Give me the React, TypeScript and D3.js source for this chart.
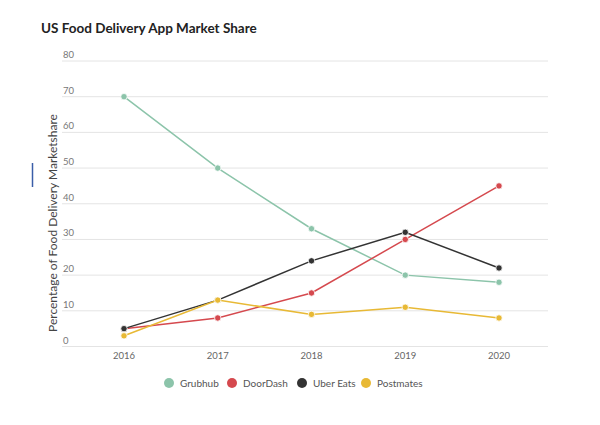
import React from "react";
import * as d3 from "d3";

const years = ["2016", "2017", "2018", "2019", "2020"];
const grubhub = [70, 50, 33, 20, 18];
const doordash = [5, 8, 15, 30, 45];
const ubereats = [5, 13, 24, 32, 22];
const postmates = [3, 13, 9, 11, 8];
const yTicks = [0, 10, 20, 30, 40, 50, 60, 70, 80];
const seriesNames = ["Grubhub", "DoorDash", "Uber Eats", "Postmates"];
const seriesColors = ["#8cc4aa", "#d5494e", "#333333", "#e8b935"];

export default function App() {
  const W = 600, H = 425;
  const x = d3.scalePoint<string>().domain(years).range([124, 499]);
  const y = d3.scaleLinear().domain([0, 80]).range([346.5, 61]);
  const data = [grubhub, doordash, ubereats, postmates];
  const line = d3.line<number>().x((_, i) => x(years[i])!).y((d) => y(d));
  const legendX = [169, 232, 302, 366];
  return (
    <svg width={W} height={H} style={{ position: "absolute", left: 0, top: 0, background: "#fff" }}>
      <text x={41} y={33} fontFamily="Lato, 'Open Sans', sans-serif" fontWeight={700} fontSize={13.5} fill="#222">
        US Food Delivery App Market Share
      </text>
      <line x1={32.5} x2={32.5} y1={163} y2={187} stroke="#3a5ea8" strokeWidth={1.5} />
      {yTicks.map((t) => (
        <g key={t}>
          <line x1={62} x2={548} y1={y(t)} y2={y(t)} stroke="#e4e4e4" strokeWidth={1} />
          <text x={63} y={y(t) - 3} fontFamily="Lato, sans-serif" fontSize={9.5} fill="#777">{t}</text>
        </g>
      ))}
      {years.map((yr) => (
        <text key={yr} x={x(yr)} y={359} textAnchor="middle" fontFamily="Lato, sans-serif" fontSize={9.5} fill="#666">{yr}</text>
      ))}
      <text transform={`translate(57,223) rotate(-90)`} textAnchor="middle" fontFamily="Lato, sans-serif" fontSize={12} fill="#444">
        Percentage of Food Delivery Marketshare
      </text>
      {data.map((s, si) => (
        <g key={si}>
          <path d={line(s)!} fill="none" stroke={seriesColors[si]} strokeWidth={1.5} />
          {s.map((v, i) => (
            <circle key={i} cx={x(years[i])} cy={y(v)} r={3.2} fill={seriesColors[si]} stroke="#fff" strokeWidth={0.8} />
          ))}
        </g>
      ))}
      {seriesNames.map((n, i) => (
        <g key={n}>
          <circle cx={legendX[i]} cy={383} r={5} fill={seriesColors[i]} />
          <text x={legendX[i] + 11} y={386.5} fontFamily="Lato, sans-serif" fontSize={10} fill="#555">{n}</text>
        </g>
      ))}
    </svg>
  );
}
